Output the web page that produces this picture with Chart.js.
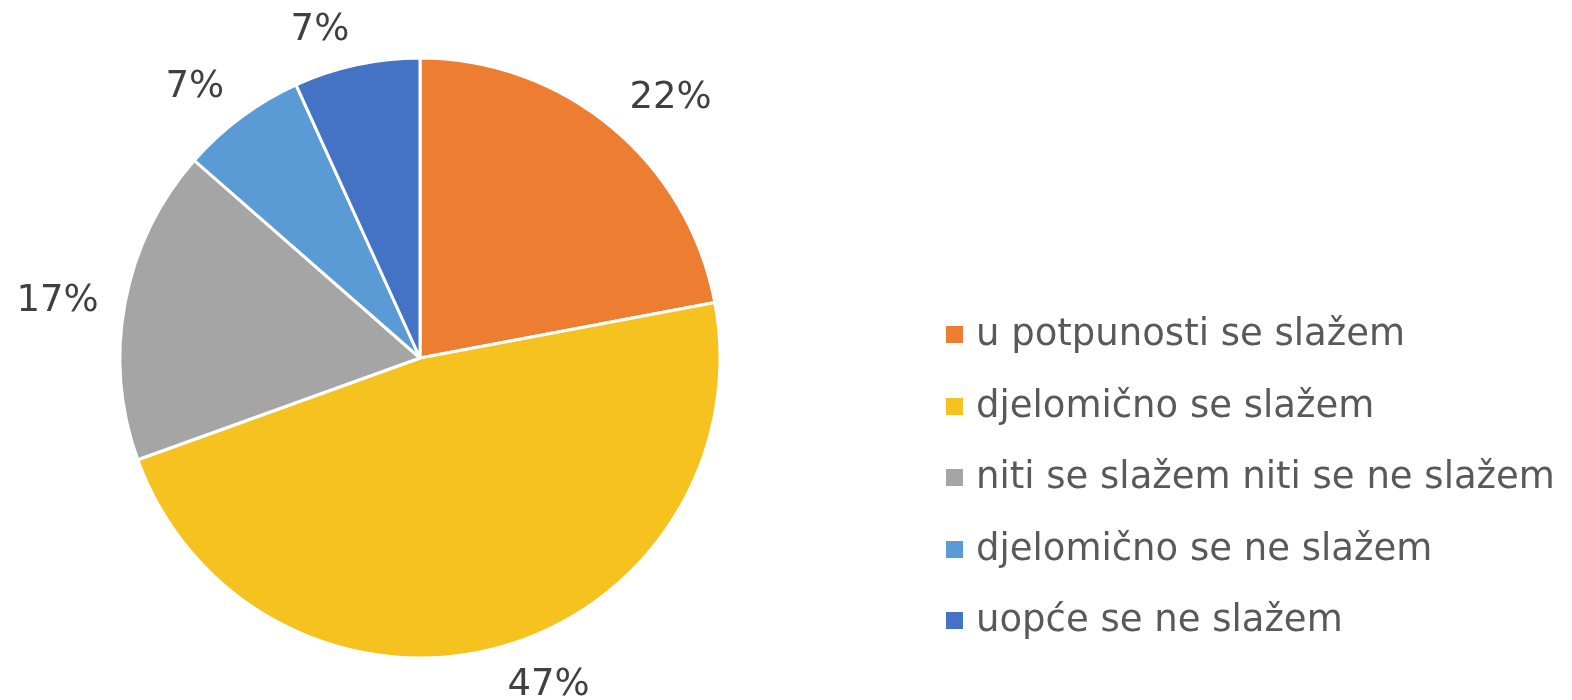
<!DOCTYPE html>
<html>
<head>
<meta charset="utf-8">
<script src="https://cdn.jsdelivr.net/npm/chart.js@4.4.0/dist/chart.umd.min.js"></script>
<style>
  html, body { margin: 0; padding: 0; background: #ffffff; }
  #wrap { position: relative; width: 1572px; height: 700px; }
  #legend { position: absolute; left: 946px; top: 297px; font-family: 'DejaVu Sans', Verdana, sans-serif; font-size: 37px; color: #595959; }
  .row { position: relative; height: 71.5px; line-height: 71.5px; padding-left: 30px; white-space: nowrap; }
  .box { position: absolute; left: 0; top: 29px; width: 17px; height: 17px; }
</style>
</head>
<body>
<div id="wrap">
  <canvas id="chart1" width="1572" height="700"></canvas>
  <div id="legend"></div>
</div>
<script>
var labels = ['u potpunosti se slažem', 'djelomično se slažem', 'niti se slažem niti se ne slažem', 'djelomično se ne slažem', 'uopće se ne slažem'];
var counts = [13, 28, 10, 4, 4];
var colors = ['#ED7D31', '#F6C21F', '#A5A5A5', '#5B9BD5', '#4472C4'];

// percentage labels outside each slice, text box hangs off an anchor point past the rim (like excel)
var outsideLabels = {
    id: 'outsideLabels',
    afterDatasetsDraw: function (chart) {
        var ctx = chart.ctx;
        var meta = chart.getDatasetMeta(0);
        var total = counts.reduce(function (a, b) { return a + b; }, 0);
        ctx.save();
        ctx.font = '37px "DejaVu Sans", Verdana, sans-serif';
        ctx.fillStyle = '#404040';
        ctx.textAlign = 'center';
        ctx.textBaseline = 'alphabetic';
        meta.data.forEach(function (arc, i) {
            var p = arc.getProps(['x', 'y', 'startAngle', 'endAngle', 'outerRadius'], true);
            var mid = (p.startAngle + p.endAngle) / 2;
            var txt = Math.round(counts[i] / total * 100) + '%';
            var w = ctx.measureText(txt).width;
            var cx = Math.cos(mid), cy = Math.sin(mid);
            var d = p.outerRadius + 25;
            var ax = p.x + cx * d, ay = p.y + cy * d;
            var fx = Math.min(1, Math.max(0, (Math.abs(cx) - 0.05) / 0.15));
            var fy = Math.min(1, Math.max(0, (Math.abs(cy) - 0.2) / 0.4));
            var tx = ax + Math.sign(cx) * fx * (w / 2 + 2);
            var midY = cy < 0 ? ay - 13.5 * fy : ay + 9.5 * fy;
            ctx.fillText(txt, tx, midY + 13.5);
        });
        ctx.restore();
    }
};

var ctx = document.getElementById('chart1').getContext('2d');
var myChart = new Chart(ctx, {
    type: 'pie',
    data: {
        labels: labels,
        datasets: [{
            data: counts,
            backgroundColor: colors,
            borderColor: '#ffffff',
            borderWidth: 3,
            radius: 300
        }]
    },
    options: {
        responsive: false,
        animation: false,
        layout: {
            padding: { left: 0, right: 732, top: 16, bottom: 0 }
        },
        plugins: {
            legend: { display: false },
            tooltip: { enabled: false }
        }
    },
    plugins: [outsideLabels]
});

// legend as html, built from the same arrays
var legendEl = document.getElementById('legend');
labels.forEach(function (lab, i) {
    var row = document.createElement('div');
    row.className = 'row';
    var box = document.createElement('span');
    box.className = 'box';
    box.style.background = colors[i];
    row.appendChild(box);
    row.appendChild(document.createTextNode(lab));
    legendEl.appendChild(row);
});
</script>
</body>
</html>
